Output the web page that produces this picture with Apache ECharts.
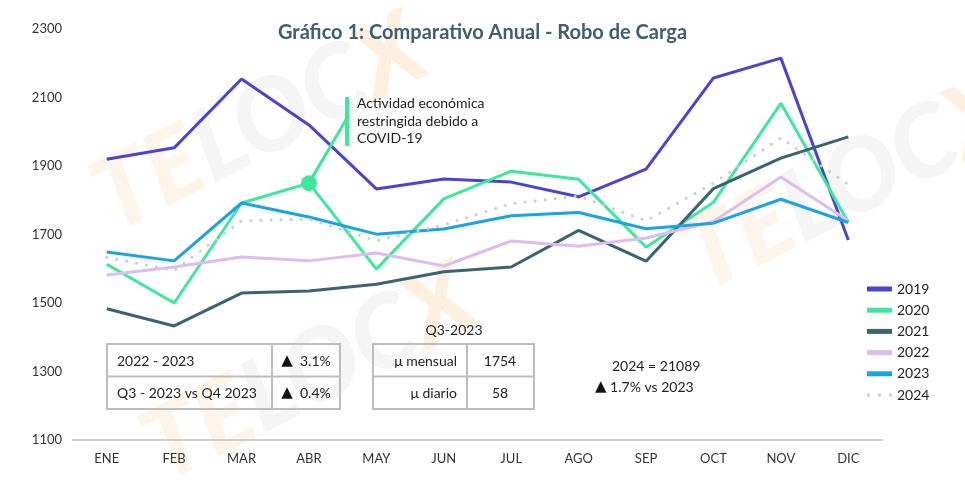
<!DOCTYPE html>
<html><head><meta charset="utf-8">
<script src="https://cdn.jsdelivr.net/npm/echarts@6/dist/echarts.min.js"></script>
<style>html,body{margin:0;padding:0;background:#fff}#c{width:965px;height:482px}</style>
</head><body><div id="c"></div>
<script>
var categories = ['ENE','FEB','MAR','ABR','MAY','JUN','JUL','AGO','SEP','OCT','NOV','DIC'];
var years = ['2019','2020','2021','2022','2023','2024'];
var d2019 = [1920,1953,2154,2020,1833,1862,1853,1810,1891,2157,2215,1684];
var d2020 = [1613,1500,1792,1850,1599,1804,1885,1861,1663,1794,2083,1736];
var d2021 = [1483,1433,1529,1535,1555,1591,1605,1712,1622,1834,1923,1985];
var d2022 = [1582,1605,1634,1623,1646,1608,1681,1666,1690,1738,1868,1740];
var d2023 = [1649,1623,1792,1751,1701,1716,1755,1764,1717,1733,1803,1735];
var d2024 = [1633,1595,1740,1745,1682,1728,1790,1812,1740,1850,1982,1846];
var yTicks = [1100,1300,1500,1700,1900,2100,2300];
var covidPoint = ['ABR', 1850];
var tableLeft = [['2022 - 2023','3.1%'],['Q3 - 2023 vs Q4 2023','0.4%']];
var tableRight = [['μ mensual','1754'],['μ diario','58']];

var colors = ['#4a43d3','#3ee89b','#3c6370','#dbbdee','#1aa5e2','#cdcdcd'];
var FF = 'Lato';
var chart = echarts.init(document.getElementById('c'), null, {renderer:'canvas'});

function wm(x, y) {
  return {
    type:'text', x:x, y:y, rotation:0.47, z:-10, silent:true,
    style:{
      text:'{a|TE}{b|LOC}{c|X}', textAlign:'left', textVerticalAlign:'middle',
      font:'italic 900 100px ' + FF,
      rich:{
        a:{fill:'#fef4e9', font:'italic 900 100px ' + FF},
        b:{fill:'#f5f5f5', font:'italic 900 100px ' + FF},
        c:{fill:'#fef0e0', font:'italic 900 100px ' + FF}
      }
    }
  };
}

function makeSeries(name, data, idx, extra) {
  var s = {
    name:name, type:'line', data:data, symbol:'none', smooth:false,
    lineStyle:{color:colors[idx], width:3}, itemStyle:{color:colors[idx]},
    z: 2 + idx
  };
  if (extra) for (var k in extra) s[k] = extra[k];
  return s;
}

var TF = '14px ' + FF;
var tri = {font:'15px DejaVu Sans', fill:'#111'};
var graphics = [];
graphics.push(wm(100, 205));
graphics.push(wm(150, 455));
graphics.push(wm(690, 265));
// annotation
graphics.push({type:'rect', shape:{x:345, y:97, width:4, height:49}, style:{fill:'#3ee89b'}, z:10});
graphics.push({type:'text', left:357, top:95, z:10, style:{text:'Actividad económica\nrestringida debido a\nCOVID-19', font:TF, fill:'#222', lineHeight:17.5}});
function tableBox(x0, y0, w, colX, rowH) {
  var g = [];
  var st = {fill:'none', stroke:'#bdbdbd', lineWidth:2};
  g.push({type:'rect', shape:{x:x0, y:y0, width:w, height:rowH*2}, style:st, z:10});
  g.push({type:'line', shape:{x1:x0, y1:y0+rowH, x2:x0+w, y2:y0+rowH}, style:{stroke:'#bdbdbd', lineWidth:2}, z:10});
  g.push({type:'line', shape:{x1:colX, y1:y0, x2:colX, y2:y0+rowH*2}, style:{stroke:'#bdbdbd', lineWidth:2}, z:10});
  return g;
}
graphics = graphics.concat(tableBox(107, 344, 233, 272, 32.5));
graphics = graphics.concat(tableBox(373, 344, 161, 467, 32.5));
for (var i = 0; i < tableLeft.length; i++) {
  var cy = 361 + i*32.5;
  graphics.push({type:'text', x:117, y:cy, z:11, style:{text:tableLeft[i][0], font:TF, fill:'#222', textVerticalAlign:'middle', textAlign:'left'}});
  graphics.push({type:'text', x:306, y:cy, z:11, style:{text:'{t|▲}  ' + tableLeft[i][1], font:TF, fill:'#222', textVerticalAlign:'middle', textAlign:'center', rich:{t:tri}}});
}
for (var j = 0; j < tableRight.length; j++) {
  var cy2 = 361 + j*32.5;
  graphics.push({type:'text', x:457, y:cy2, z:11, style:{text:tableRight[j][0], font:TF, fill:'#222', textVerticalAlign:'middle', textAlign:'right'}});
  graphics.push({type:'text', x:500, y:cy2, z:11, style:{text:tableRight[j][1], font:TF, fill:'#222', textVerticalAlign:'middle', textAlign:'center'}});
}
graphics.push({type:'text', x:454, y:330, z:11, style:{text:'Q3-2023', font:TF, fill:'#222', textVerticalAlign:'middle', textAlign:'center'}});
graphics.push({type:'text', x:612, y:366, z:11, style:{text:'2024 = 21089', font:TF, fill:'#222', textVerticalAlign:'middle', textAlign:'left'}});
graphics.push({type:'text', x:595, y:387, z:11, style:{text:'{t|▲} 1.7% vs 2023', font:TF, fill:'#222', textVerticalAlign:'middle', textAlign:'left', rich:{t:tri}}});

var legendData = years.map(function(y, i){
  return i < 5 ? {name:y, icon:'rect'} : {name:y, icon:'path://M0,0h2v2h-2zM8,0h2v2h-2zM16,0h2v2h-2z'};
});

var option = {
  animation:false,
  textStyle:{fontFamily:FF},
  title:{text:'Gráfico 1: Comparativo Anual - Robo de Carga', left:'center', top:18,
    textStyle:{fontFamily:FF, fontSize:20, fontWeight:'bold', color:'#3e5f6b'}},
  grid:{left:73, right:83, top:29, bottom:42, containLabel:false},
  legend:{orient:'vertical', left:862, top:277, itemWidth:25, itemHeight:5, itemGap:7.2,
    data:legendData, textStyle:{fontFamily:FF, fontSize:14, color:'#222'}, selectedMode:false},
  xAxis:{type:'category', data:categories, boundaryGap:true,
    axisLine:{lineStyle:{color:'#cfcfcf', width:2}}, axisTick:{show:false},
    axisLabel:{fontFamily:FF, fontSize:13, color:'#333', margin:12}},
  yAxis:{type:'value', min:yTicks[0], max:yTicks[yTicks.length-1], interval:200,
    axisLine:{show:false}, axisTick:{show:false}, splitLine:{show:false},
    axisLabel:{fontFamily:FF, fontSize:13, color:'#333', margin:11, formatter:function(v){return String(v);}}},
  graphic:graphics,
  series:[
    makeSeries('2024', d2024, 5, {lineStyle:{color:colors[5], width:3, type:[0.1,10], cap:'round'}}),
    makeSeries('2022', d2022, 3),
    makeSeries('2021', d2021, 2),
    makeSeries('2023', d2023, 4),
    makeSeries('2020', d2020, 1, {
      markPoint:{symbol:'circle', symbolSize:16, label:{show:false}, itemStyle:{color:colors[1]},
        data:[{coord:covidPoint}]},
      markLine:{symbol:'none', silent:true, label:{show:false}, lineStyle:{color:colors[1], width:3, type:'solid'},
        data:[[{coord:covidPoint}, {x:347, y:118}]]}
    }),
    makeSeries('2019', d2019, 0)
  ]
};
chart.setOption(option);
</script></body></html>
